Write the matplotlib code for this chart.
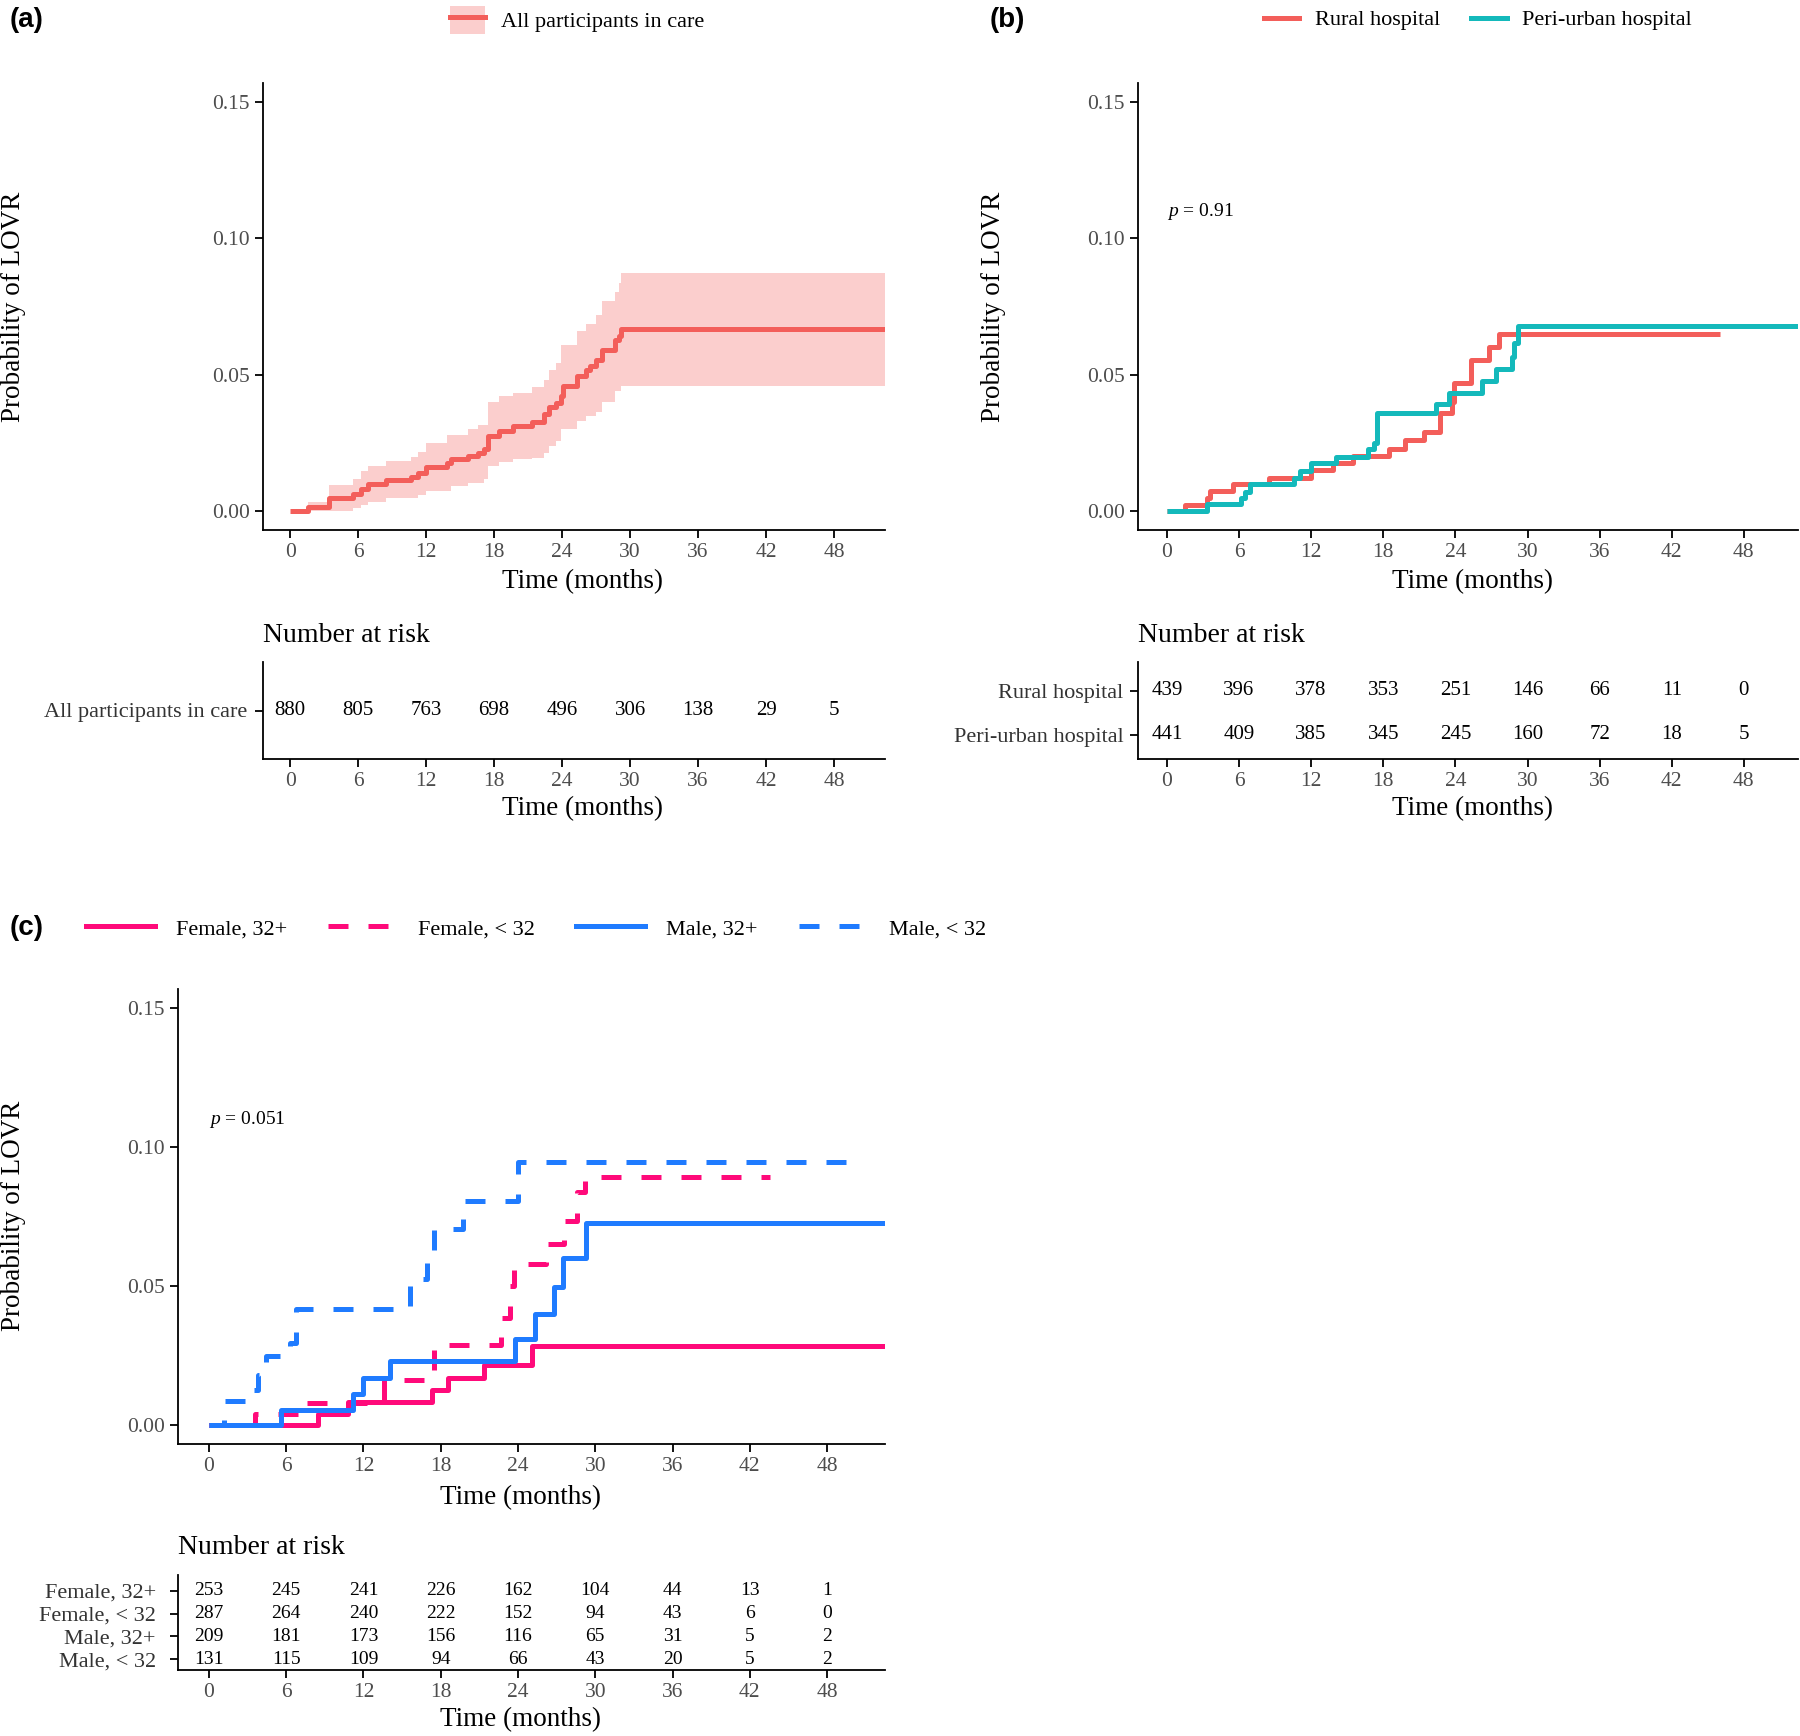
"""
Cumulative probability of LOVR - three Kaplan-Meier style panels with risk tables
"""

import matplotlib.pyplot as plt
from matplotlib.lines import Line2D
from matplotlib.patches import Patch
from matplotlib.legend_handler import HandlerTuple

# ---------------------------------------------------------------- data
risk_times = [0, 6, 12, 18, 24, 30, 36, 42, 48]

# panel (a): all participants, estimate + 95% band (months, probability)
a_time = [0, 1.6, 3.4, 5.5, 6.25, 6.9, 8.5, 10.7, 11.3, 12.0, 13.8, 14.2, 15.7, 16.6,
          17.1, 17.5, 18.4, 19.7, 21.3, 22.4, 22.8, 23.5, 23.9, 24.1, 25.3, 26.1,
          26.5, 27.0, 27.5, 28.7, 29.0, 29.2]
a_est = [0, .0015, .0049, .0061, .0079, .0098, .0112, .0124, .0138, .0162, .0177, .0189,
         .0201, .0213, .0228, .0274, .0293, .0311, .0327, .0354, .0382, .0396, .0421,
         .0457, .0496, .0518, .0533, .0555, .0591, .0628, .0643, .0668]
a_upper = [0, .0034, .0095, .0116, .0146, .0165, .0183, .0199, .0216, .0250, .0280, .0280,
           .0299, .0317, .0317, .0399, .0421, .0433, .0455, .0482, .0518, .0543, .0610,
           .0610, .0661, .0687, .0687, .0717, .0772, .0805, .0838, .0872]
a_lower = [0, 0, 0, .0012, .0021, .0034, .0049, .0049, .0057, .0073, .0073, .0091, .0104,
           .0104, .0116, .0165, .0179, .0189, .0195, .0213, .0238, .0256, .0299, .0299,
           .0329, .0348, .0348, .0363, .0400, .0439, .0439, .0460]
a_end = 52.5
a_label = 'All participants in care'
a_risk = [880, 805, 763, 698, 496, 306, 138, 29, 5]

# panel (b): by hospital
rural_time = [0, 1.5, 3.36, 3.6, 5.5, 8.5, 12.0, 13.8, 15.5, 18.5, 19.8, 21.4, 22.7,
              23.7, 23.9, 25.3, 26.8, 27.6]
rural_prob = [0, .0022, .0046, .0073, .0098, .0122, .0150, .0174, .0201, .0226, .0260,
              .0288, .0360, .0400, .0470, .0552, .0601, .0650]
rural_end = 46.0
peri_time = [0, 3.36, 6.2, 6.5, 6.9, 10.6, 11.1, 12.0, 14.05, 16.7, 17.2, 17.5, 22.4,
             23.5, 26.2, 27.4, 28.7, 28.9, 29.2]
peri_prob = [0, .0024, .0046, .0068, .0098, .0122, .0148, .0174, .0199, .0226, .0250,
             .0360, .0394, .0433, .0476, .0522, .0565, .0616, .0678]
peri_end = 52.5
b_labels = ['Rural hospital', 'Peri-urban hospital']
b_risk_rural = [439, 396, 378, 353, 251, 146, 66, 11, 0]
b_risk_peri = [441, 409, 385, 345, 245, 160, 72, 18, 5]
b_pval = '0.91'

# panel (c): by sex and age group
f_old_time = [0, 8.5, 10.8, 17.3, 18.6, 21.4, 25.1]
f_old_prob = [0, .0039, .0081, .0123, .0168, .0213, .0283]
f_old_end = 52.5
f_young_time = [0, 3.6, 7.6, 13.6, 17.5, 22.7, 23.4, 23.7, 26.2, 27.6, 28.6, 29.2]
f_young_prob = [0, .0039, .0078, .0159, .0286, .0385, .0500, .0578, .0650, .0735, .0837, .0894]
f_young_end = 43.6
m_old_time = [0, 5.6, 11.2, 12.0, 14.1, 23.8, 25.3, 26.8, 27.5, 29.3]
m_old_prob = [0, .0054, .0112, .0168, .0229, .0310, .0397, .0497, .0602, .0727]
m_old_end = 52.5
m_young_time = [0, 1.2, 3.4, 3.8, 4.4, 6.3, 6.8, 15.6, 16.9, 17.5, 19.7, 24.0]
m_young_prob = [0, .0084, .0126, .0180, .0247, .0295, .0415, .0525, .0607, .0704, .0806, .0945]
m_young_end = 50.85
c_labels = ['Female, 32+', 'Female, < 32', 'Male, 32+', 'Male, < 32']
c_risk = [[253, 245, 241, 226, 162, 104, 44, 13, 1],
          [287, 264, 240, 222, 152, 94, 43, 6, 0],
          [209, 181, 173, 156, 116, 65, 31, 5, 2],
          [131, 115, 109, 94, 66, 43, 20, 5, 2]]
c_pval = '0.051'

# ---------------------------------------------------------------- style
W, H = 1800, 1736
plt.rcParams['font.family'] = ['Liberation Serif', 'DejaVu Serif']
plt.rcParams['mathtext.fontset'] = 'custom'
plt.rcParams['mathtext.it'] = 'Liberation Serif:italic'
plt.rcParams['mathtext.rm'] = 'Liberation Serif'

RED = '#F35E5A'
TEAL = '#14B9BB'
PINK = '#FF0A7A'
BLUE = '#1F7BFF'
GREY = '#4D4D4D'
XLIM = (-2.4, 52.5)
YLIM = (-0.007, 0.157)
LW = 3.6
DASH = (0, (4, 4))
TICK_FS = 15.5
TITLE_FS = 19.5


def px_axes(fig, left, top, right, bottom):
    """Create axes from pixel edges (origin at top-left)."""
    return fig.add_axes([left / W, 1 - bottom / H, (right - left) / W, (bottom - top) / H])


def fig_text(fig, x, y, s, **kw):
    fig.text(x / W, 1 - y / H, s, **kw)


def style_axes(ax):
    for side in ['top', 'right']:
        ax.spines[side].set_visible(False)
    for side in ['left', 'bottom']:
        ax.spines[side].set_linewidth(1.3)
    ax.tick_params(length=5.5, width=1.3, colors='black', labelcolor=GREY,
                   labelsize=TICK_FS, pad=4)
    ax.set_xlim(XLIM)
    ax.set_xticks(risk_times)


def step(ax, times, probs, end, color, ls='-'):
    ax.plot(list(times) + [end], list(probs) + [probs[-1]], drawstyle='steps-post',
            color=color, lw=LW, linestyle=ls, solid_capstyle='butt', dash_capstyle='butt')


def main_axes(ax):
    style_axes(ax)
    ax.set_ylim(YLIM)
    ax.set_yticks([0, 0.05, 0.10, 0.15])
    ax.set_yticklabels(['0.00', '0.05', '0.10', '0.15'])


def risk_table(ax, rows, labels, ylim, num_fs, label_pad):
    style_axes(ax)
    n = len(rows)
    for i, counts in enumerate(rows):
        for t, c in zip(risk_times, counts):
            ax.text(t, n - i, str(c), ha='center', va='center', fontsize=num_fs)
    ax.set_ylim(ylim)
    ax.set_yticks(list(range(n, 0, -1)))
    ax.set_yticklabels(labels, fontsize=16, color='#333333')
    ax.tick_params(axis='y', pad=label_pad)


fig = plt.figure(figsize=(W / 100, H / 100), dpi=100)

# ---------------------------------------------------------------- panel (a)
ax = px_axes(fig, 263, 83, 885, 530)
main_axes(ax)
ax.fill_between(a_time + [a_end], a_lower + [a_lower[-1]], a_upper + [a_upper[-1]],
                step='post', color=RED, alpha=0.3, linewidth=0)
step(ax, a_time, a_est, a_end, RED)
fig_text(fig, 14, 307, 'Probability of LOVR', rotation=90, ha='center', va='center', fontsize=TITLE_FS)
fig_text(fig, 582, 582, 'Time (months)', ha='center', va='center', fontsize=TITLE_FS)

h_a = (Patch(facecolor=RED, alpha=0.3, linewidth=0), Line2D([], [], color=RED, lw=LW))
fig.legend([h_a], [a_label], loc='center', bbox_to_anchor=(577 / W, 1 - 20 / H),
           frameon=False, fontsize=16, handlelength=1.6, handleheight=1.6,
           handletextpad=0.7, handler_map={tuple: HandlerTuple(ndivide=1)})

ax = px_axes(fig, 263, 662, 885, 759)
risk_table(ax, [a_risk], [a_label], (0.45, 1.55), 15, 6)
fig_text(fig, 263, 636, 'Number at risk', ha='left', va='center', fontsize=20)
fig_text(fig, 582, 809, 'Time (months)', ha='center', va='center', fontsize=TITLE_FS)
fig_text(fig, 10, 20, '(a)', ha='left', va='center', fontsize=20, fontweight='bold',
         family='Liberation Sans')

# ---------------------------------------------------------------- panel (b)
ax = px_axes(fig, 1138, 83, 1798, 530)
main_axes(ax)
step(ax, rural_time, rural_prob, rural_end, RED)
step(ax, peri_time, peri_prob, peri_end, TEAL)
ax.text(0, 0.11, '$p$ = ' + b_pval, ha='left', va='center', fontsize=14)
fig_text(fig, 994, 307, 'Probability of LOVR', rotation=90, ha='center', va='center', fontsize=TITLE_FS)
fig_text(fig, 1473, 582, 'Time (months)', ha='center', va='center', fontsize=TITLE_FS)

h_b = [Line2D([], [], color=RED, lw=LW), Line2D([], [], color=TEAL, lw=LW)]
fig.legend(h_b, b_labels, loc='center', bbox_to_anchor=(1478 / W, 1 - 20 / H), ncol=2,
           frameon=False, fontsize=16, handlelength=1.6, handletextpad=0.7,
           columnspacing=1.4)

ax = px_axes(fig, 1138, 662, 1798, 759)
risk_table(ax, [b_risk_rural, b_risk_peri], b_labels, (0.45, 2.65), 15, 5)
fig_text(fig, 1138, 636, 'Number at risk', ha='left', va='center', fontsize=20)
fig_text(fig, 1473, 809, 'Time (months)', ha='center', va='center', fontsize=TITLE_FS)
fig_text(fig, 990, 20, '(b)', ha='left', va='center', fontsize=20, fontweight='bold',
         family='Liberation Sans')

# ---------------------------------------------------------------- panel (c)
ax = px_axes(fig, 178, 989, 885, 1444)
main_axes(ax)
step(ax, f_old_time, f_old_prob, f_old_end, PINK)
step(ax, f_young_time, f_young_prob, f_young_end, PINK, DASH)
step(ax, m_old_time, m_old_prob, m_old_end, BLUE)
step(ax, m_young_time, m_young_prob, m_young_end, BLUE, DASH)
ax.text(0, 0.11, '$p$ = ' + c_pval, ha='left', va='center', fontsize=14)
fig_text(fig, 14, 1216, 'Probability of LOVR', rotation=90, ha='center', va='center', fontsize=TITLE_FS)
fig_text(fig, 520, 1498, 'Time (months)', ha='center', va='center', fontsize=TITLE_FS)

h_c = [Line2D([], [], color=PINK, lw=LW),
       Line2D([], [], color=PINK, lw=LW, linestyle=DASH),
       Line2D([], [], color=BLUE, lw=LW),
       Line2D([], [], color=BLUE, lw=LW, linestyle=DASH)]
fig.legend(h_c, c_labels, loc='center', bbox_to_anchor=(536 / W, 1 - 929 / H), ncol=4,
           frameon=False, fontsize=16, handlelength=3.1, handletextpad=0.95,
           columnspacing=1.85)

ax = px_axes(fig, 178, 1575, 885, 1670)
risk_table(ax, c_risk, c_labels, (0.52, 4.7), 14, 10.5)
fig_text(fig, 178, 1548, 'Number at risk', ha='left', va='center', fontsize=20)
fig_text(fig, 520, 1720, 'Time (months)', ha='center', va='center', fontsize=TITLE_FS)
fig_text(fig, 10, 928, '(c)', ha='left', va='center', fontsize=20, fontweight='bold',
         family='Liberation Sans')

plt.savefig('out.png', dpi=100)
plt.close()
